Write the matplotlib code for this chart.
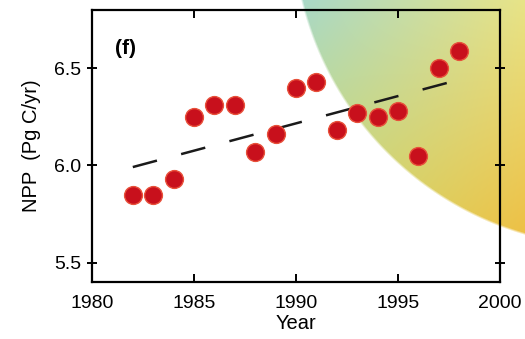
import numpy as np
import matplotlib
matplotlib.use('Agg')
import matplotlib.pyplot as plt

# NPP per year
years = [1982, 1983, 1984, 1985, 1986, 1987, 1988, 1989, 1990,
         1991, 1992, 1993, 1994, 1995, 1996, 1997, 1998]
npp = [5.85, 5.85, 5.93, 6.25, 6.31, 6.31, 6.07, 6.16, 6.40,
       6.43, 6.18, 6.27, 6.25, 6.28, 6.05, 6.50, 6.59]
xticks = [1980, 1985, 1990, 1995, 2000]
yticks = [5.5, 6.0, 6.5]

plt.rcParams['font.family'] = ['Liberation Sans', 'DejaVu Sans']

W, H = 525, 339
fig = plt.figure(figsize=(W / 100, H / 100), dpi=100)

# coloured disc in the upper right (background decoration)
px, py = np.meshgrid(np.arange(W) + 0.5, np.arange(H) + 0.5)
cx, cy, r = 615.0, -75.0, 323.0
d = np.hypot(px - cx, py - cy)
alpha = np.clip((r - d) / 2.5, 0, 1)
v = np.clip((px - 300) / 225.0, 0, 1)[..., None]
u = np.clip(py / 250.0, 0, 1)[..., None]
tl = np.array([168, 216, 200]) / 255
tr = np.array([232, 228, 135]) / 255
bl = np.array([208, 220, 100]) / 255
br = np.array([238, 190, 65]) / 255
rgb = (tl * (1 - v) * (1 - u) + tr * v * (1 - u)
       + bl * (1 - v) * u + br * v * u)
# blend with white using alpha, so the image is fully opaque
rgb = rgb * alpha[..., None] + (1 - alpha[..., None])
bg = fig.add_axes([0, 0, 1, 1], zorder=0)
bg.imshow(rgb, extent=(0, W, H, 0), aspect='auto', interpolation='none')
bg.set_xlim(0, W)
bg.set_ylim(H, 0)
bg.axis('off')

ax = fig.add_axes([92 / W, 1 - 282 / H, 408 / W, 272 / H], zorder=1)
ax.set_facecolor('none')

ax.scatter(years, npp, s=165, c='#c8101c', edgecolors='#e8503a',
           linewidths=1.0, zorder=3)

coef = np.polyfit(years, npp, 1)
fit_x = np.array([years[0], years[-1]])
line, = ax.plot(fit_x, np.polyval(coef, fit_x), color='#1a1a1a', lw=1.8, zorder=2)
line.set_dashes([10, 10])

ax.set_xlim(1980, 2000)
ax.set_ylim(5.4, 6.8)
ax.set_xticks(xticks)
ax.set_yticks(yticks)
ax.set_yticklabels(['%.1f' % t for t in yticks])

for s in ax.spines.values():
    s.set_linewidth(1.6)
ax.tick_params(axis='x', direction='in', top=True, length=6, width=1.4,
               labelsize=14, pad=9)
ax.tick_params(axis='y', direction='inout', right=True, length=7, width=1.4,
               labelsize=14, pad=4)

ax.set_xlabel('Year', fontsize=14.5, labelpad=2)
ax.set_ylabel('NPP  (Pg C/yr)', fontsize=14.5, labelpad=10)
ax.text(0.083, 0.86, '(f)', transform=ax.transAxes, fontsize=15,
        fontweight='bold', ha='center', va='center')

fig.savefig('out.png', dpi=100)
